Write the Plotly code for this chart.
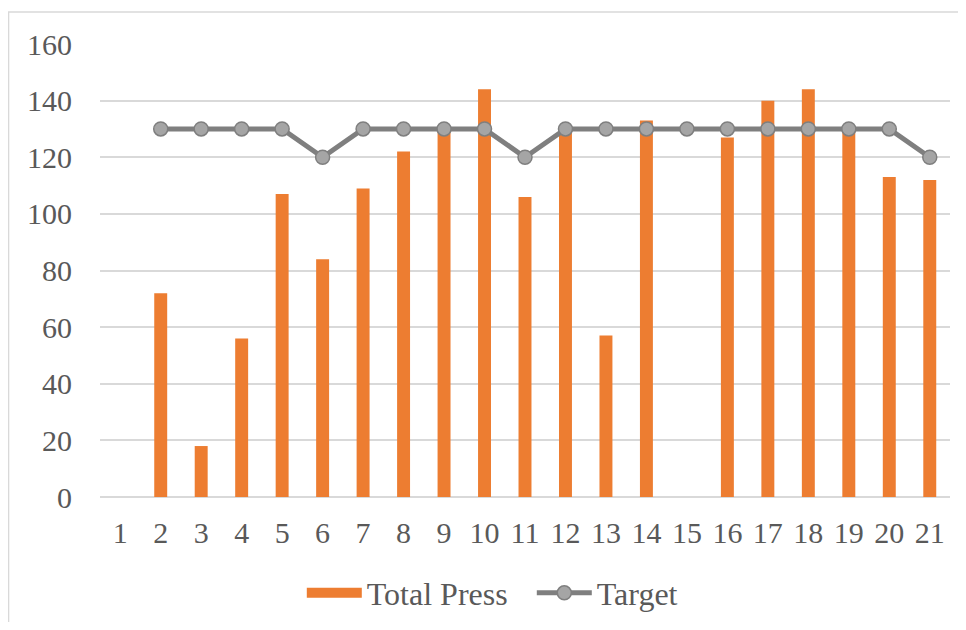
import plotly.graph_objects as go

categories = [str(i) for i in range(1, 22)]
total_press = [None, 72, 18, 56, 107, 84, 109, 122, 130, 144, 106, 130, 57, 133, None, 127, 140, 144, 130, 113, 112]
target = [None, 130, 130, 130, 130, 120, 130, 130, 130, 130, 120, 130, 130, 130, 130, 130, 130, 130, 130, 130, 120]
y_ticks = [0, 20, 40, 60, 80, 100, 120, 140, 160]

font_family = "Liberation Serif, Times New Roman, serif"
text_color = "#595959"
bar_color = "#ED7D31"

fig = go.Figure()
fig.add_trace(go.Bar(
    x=categories, y=total_press, name="Total Press", showlegend=False, legendgroup="tp",
    marker=dict(color=bar_color, line=dict(width=0)),
))
# legend-only entry so the swatch is a wide rectangle like the original
fig.add_trace(go.Scatter(
    x=[None], y=[None], name="Total Press", mode="lines", legendgroup="tp",
    line=dict(color=bar_color, width=16),
))
fig.add_trace(go.Scatter(
    x=categories, y=target, name="Target", mode="lines+markers",
    line=dict(color="#7F7F7F", width=5),
    marker=dict(size=14, color="#A5A5A5", line=dict(color="#7F7F7F", width=1.5)),
))

fig.update_layout(
    width=950, height=614,
    margin=dict(l=92, r=8, t=36, b=125),
    paper_bgcolor="white", plot_bgcolor="white",
    bargap=0.68,
    font=dict(family=font_family, size=30, color=text_color),
    showlegend=True,
    legend=dict(orientation="h", x=0.508, xanchor="center", xref="paper",
                y=0.0472, yanchor="middle", yref="container",
                font=dict(size=32, color=text_color), itemwidth=55,
                entrywidth=160, entrywidthmode="pixels", traceorder="normal"),
    shapes=[dict(type="rect", xref="paper", yref="paper",
                 x0=-0.1076, x1=1.03, y0=-0.35, y1=1.0706,
                 line=dict(color="#D9D9D9", width=1.5), fillcolor="rgba(0,0,0,0)", layer="below")],
)
fig.update_xaxes(
    type="category", range=[-0.5, 20.5], showgrid=False, showline=False, ticks="",
    tickfont=dict(size=30, color=text_color), ticklabelstandoff=15,
)
fig.update_yaxes(
    range=[0, 160], tickvals=y_ticks, showgrid=True, gridcolor="#D9D9D9", gridwidth=1.5,
    zeroline=True, zerolinecolor="#D9D9D9", zerolinewidth=1.5, showline=False, ticks="",
    tickfont=dict(size=30, color=text_color), ticklabelstandoff=27,
)

fig.write_html("out.html")
